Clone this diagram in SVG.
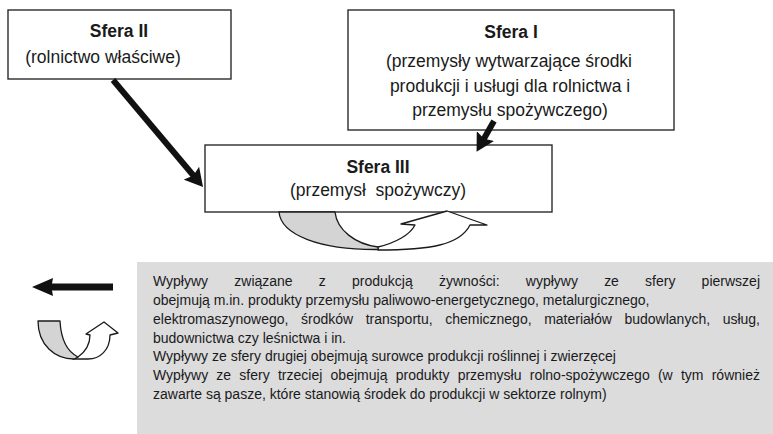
<svg xmlns="http://www.w3.org/2000/svg" width="773" height="434" viewBox="0 0 773 434">
<style>
.box{fill:#fff;stroke:#2b2b2b;stroke-width:1.4}
.t{font-family:"Liberation Sans",Arial,sans-serif;font-size:17.5px;fill:#1a1a1a;text-anchor:middle}
.b{font-weight:bold}
.s{font-family:"Liberation Sans",Arial,sans-serif;font-size:14px;fill:#1a1a1a}
.conn{stroke:#111;stroke-width:6;fill:none}
.ic{stroke:#1a1a1a;stroke-width:1.3;stroke-linejoin:round}
</style>
<defs>
<marker id="ah" markerUnits="userSpaceOnUse" viewBox="0 0 18 20" refX="6" refY="10" markerWidth="18" markerHeight="20" orient="auto">
<path d="M0,0 L18,10 L0,20 L3,10 Z" fill="#111"/>
</marker>
</defs>
<rect x="137" y="262" width="636" height="172" fill="#dcdcdd"/>
<g id="sfera2">
<rect class="box" x="8" y="10" width="223" height="69"/>
<text class="t b" x="119" y="37">Sfera II</text>
<text class="t" x="103" y="63">(rolnictwo właściwe)</text>
</g>
<g id="sfera1">
<rect class="box" x="348" y="10" width="326" height="120"/>
<text class="t b" x="511" y="38">Sfera I</text>
<text class="t" x="509" y="67">(przemysły wytwarzające środki</text>
<text class="t" x="510" y="92">produkcji i usługi dla rolnictwa i</text>
<text class="t" x="510" y="116">przemysłu spożywczego)</text>
</g>
<g id="sfera3">
<rect class="box" x="205" y="145" width="347" height="67"/>
<text class="t b" x="378" y="173">Sfera III</text>
<text class="t" x="378" y="196" xml:space="preserve">(przemysł  spożywczy)</text>
</g>
<g id="connectors">
<line class="conn" x1="113" y1="80" x2="195.3" y2="177.8" marker-end="url(#ah)"/>
<line class="conn" x1="494" y1="121" x2="482.5" y2="141.3" stroke-width="5" marker-end="url(#ah)"/>
<g id="cycle">
<path class="ic" fill="#fff" d="M378,247 C395,243 410,235 415,225 L401,224 L447,211 L487,225 L470,225 C460,245 430,250 378,250 Z"/>
<path class="ic" fill="#d4d4d5" d="M279,212 L335,212 C337,230 355,244 378,247 L378,249.5 C320,250 281,235 279,212 Z"/>
</g>
</g>
<g id="legend">
<path fill="#111" d="M113,283.5 L52,283.5 L53,278 L32,287 L53,296 L52,290.5 L113,290.5 Z"/>
<path class="ic" fill="#fff" d="M78,357 C85,352 90,344 90,335 L86,334 L104,322 L118,333 L110,335 C110,350 100,359 88,359 L73,359 Z"/>
<path class="ic" fill="#d4d4d5" d="M38,321 L60,321 C61,340 68,352 78,357 L74,359 C55,359 38,345 38,321 Z"/>
</g>
<g id="description">
<text class="s" x="153" y="286" word-spacing="22.3" textLength="607" lengthAdjust="spacing">Wypływy związane z produkcją żywności: wypływy ze sfery pierwszej</text>
<text class="s" x="153" y="305">obejmują m.in. produkty przemysłu paliwowo-energetycznego, metalurgicznego,</text>
<text class="s" x="153" y="324" word-spacing="8.7" textLength="607" lengthAdjust="spacing">elektromaszynowego, środków transportu, chemicznego, materiałów budowlanych, usług,</text>
<text class="s" x="153" y="342.5">budownictwa czy leśnictwa i in.</text>
<text class="s" x="153" y="361">Wypływy ze sfery drugiej obejmują surowce produkcji roślinnej i zwierzęcej</text>
<text class="s" x="153" y="380" word-spacing="4.3" textLength="607" lengthAdjust="spacing">Wypływy ze sfery trzeciej obejmują produkty przemysłu rolno-spożywczego (w tym również</text>
<text class="s" x="153" y="398.5">zawarte są pasze, które stanowią środek do produkcji w sektorze rolnym)</text>
</g>
</svg>
